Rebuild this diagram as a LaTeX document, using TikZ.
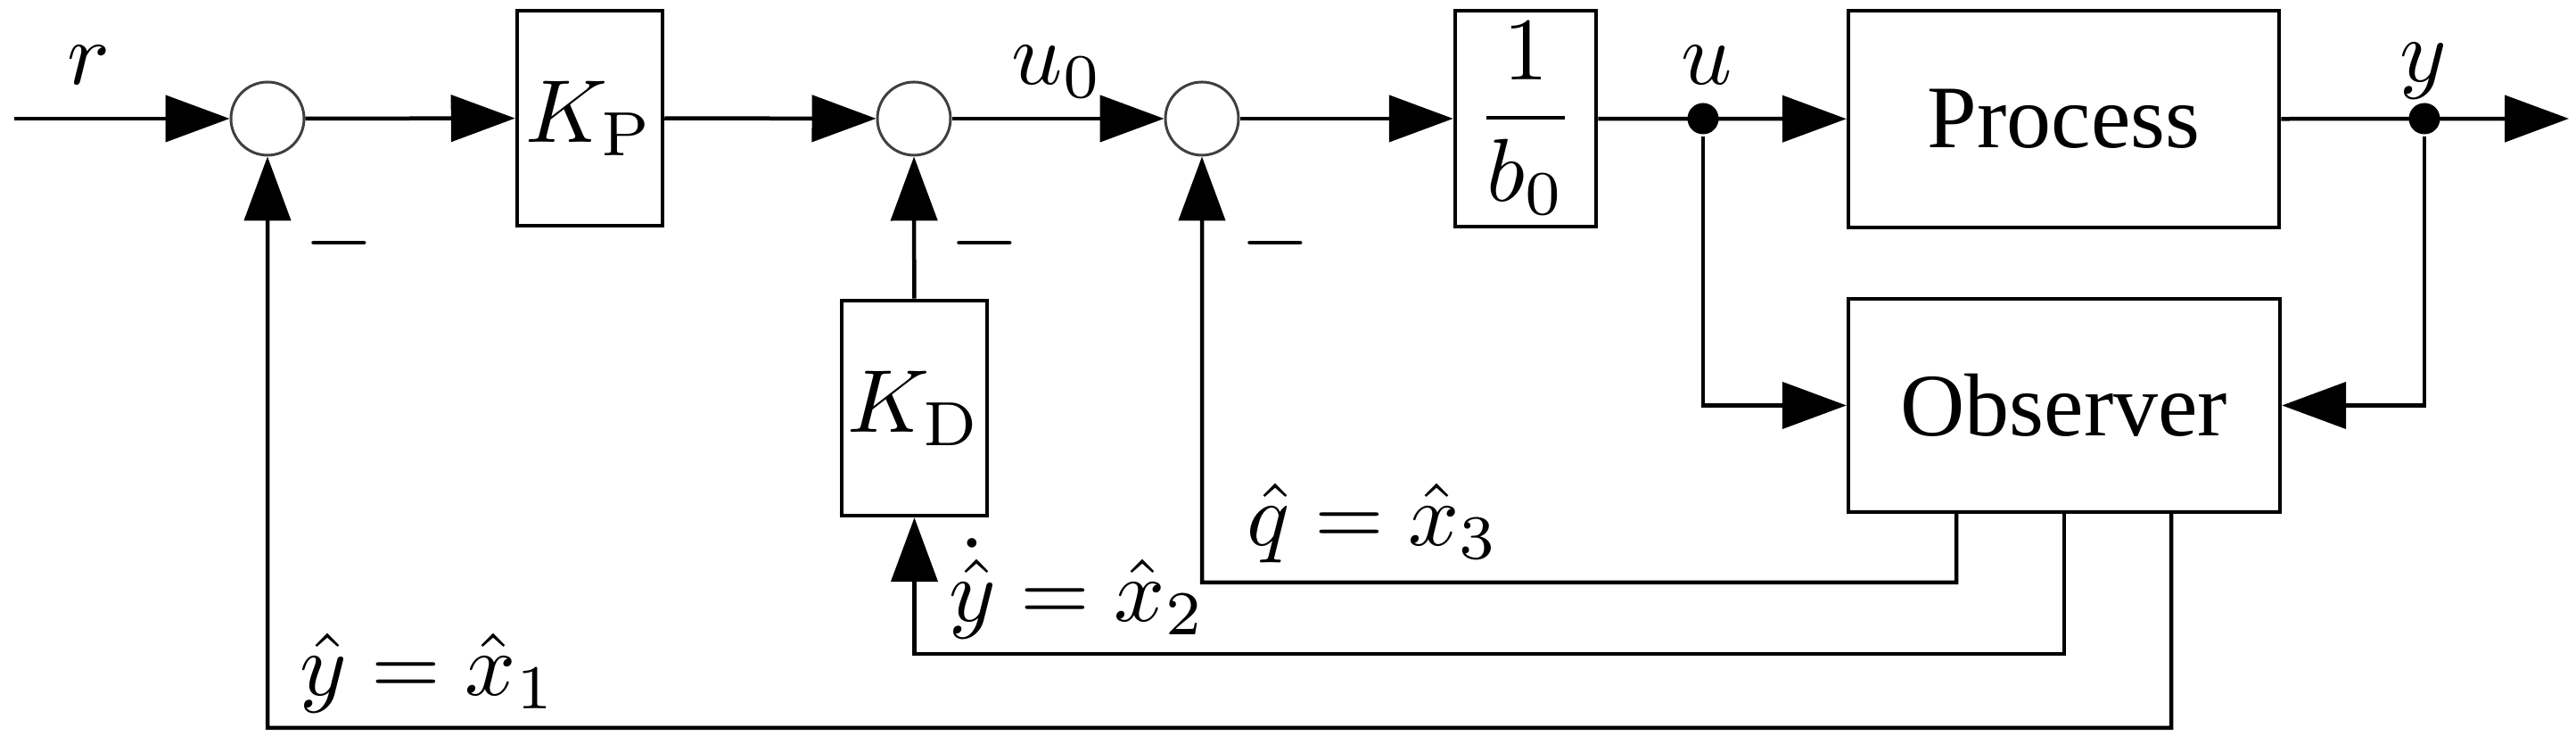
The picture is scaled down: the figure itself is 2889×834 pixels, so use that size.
\documentclass[tikz,border=0pt]{standalone}
\usepackage{fontspec}
\newfontfamily\tnr{Liberation Serif}
\usetikzlibrary{arrows.meta,calc}
\begin{document}
\begin{tikzpicture}[x=0.1pt,y=-0.1pt,
  line width=0.45pt,
  every node/.style={font=\fontsize{10}{12}\selectfont},
  arr/.style={-{Triangle[length=7.2pt,width=5.2pt]}},
  sumnode/.style={circle,draw=black!75,line width=0.3pt,minimum size=8.2pt,inner sep=0pt},
  blk/.style={draw,rectangle,inner sep=0pt},
  dotnode/.style={circle,fill,inner sep=0pt,minimum size=3.5pt},
  lbl/.style={anchor=base,inner sep=0pt}]
\useasboundingbox (0,0) rectangle (2889,834);

% blocks
\node[sumnode] (s1) at (300,133) {};
\node[sumnode] (s2) at (1025,133) {};
\node[sumnode] (s3) at (1348,133) {};
\node[blk,minimum width=16.3pt,minimum height=24.1pt] (kp) at (661.5,132.5) {$K_{\mathrm{P}}$};
\node[blk,minimum width=15.8pt,minimum height=24.2pt] (b0) at (1711,133) {$\displaystyle\frac{1}{b_0}$};
\node[blk,minimum width=48.3pt,minimum height=24.3pt] (proc) at (2314.5,133.5) {\tnr Process};
\node[blk,minimum width=48.4pt,minimum height=23.9pt] (obs) at (2315,454.5) {\tnr Observer};
\node[blk,minimum width=16.3pt,minimum height=24.1pt] (kd) at (1025.5,457.5) {$K_{\mathrm{D}}$};
\node[dotnode] (ud) at (1910,133) {};
\node[dotnode] (yd) at (2719,133) {};
\coordinate (in) at (16,133);
\coordinate (out) at (2881,133);
\coordinate (c1) at (2194,653);
\coordinate (c2) at (2315,733);
\coordinate (c3) at (2435,816);

% forward path
\draw[arr] (in) -- (s1);
\draw[arr] (s1) -- (kp);
\draw[arr] (kp) -- (s2);
\draw[arr] (s2) -- (s3);
\draw[arr] (s3) -- (b0);
\draw[arr] (b0) -- (proc);
\draw[arr] (proc) -- (out);

% observer inputs
\draw[arr] (ud) |- (obs);
\draw[arr] (yd) |- (obs);

% feedback
\draw[arr] (kd) -- (s2);
\draw[arr] ([xshift=-12.1pt]obs.south) -- (c1) -| (s3);
\draw[arr] (obs.south) -- (c2) -| (kd);
\draw[arr] ([xshift=12.0pt]obs.south) -- (c3) -| (s1);

% labels
\node[lbl] (lr) at (99,95) {$r$};
\node[lbl] (lu0) at (1186,95) {$u_0$};
\node[lbl] (lu) at (1914,95) {$u$};
\node[lbl] (ly) at (2718,92) {$y$};
\node (m1) at (380,273) {$-$};
\node (m2) at (1104,273) {$-$};
\node (m3) at (1430,273) {$-$};
\node[lbl] (l1) at (480,780) {$\hat{y}=\hat{x}_1$};
\node[lbl] (l2) at (1208,697) {$\dot{\hat{y}}=\hat{x}_2$};
\node[lbl] (l3) at (1540,612) {$\hat{q}=\hat{x}_3$};
\end{tikzpicture}
\end{document}
